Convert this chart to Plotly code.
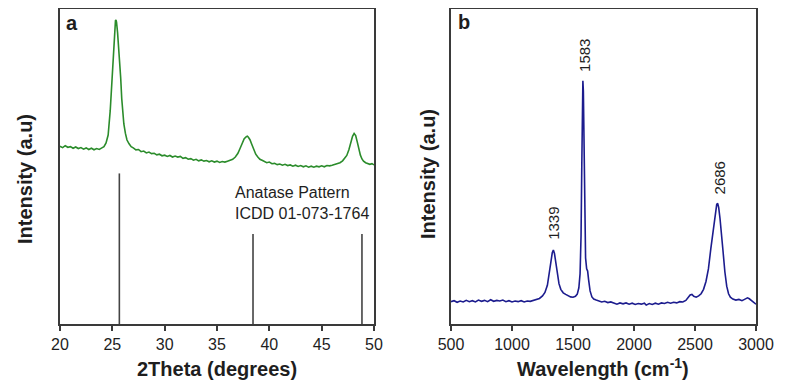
import plotly.graph_objects as go

# ---------------- Panel a: XRD ----------------
xrd_theta = [20.0, 20.25, 20.5, 20.75, 21.0, 21.25, 21.5, 21.75, 22.0, 22.25, 22.5, 22.75,
             23.0, 23.25, 23.5, 23.75, 24.0, 24.2, 24.4, 24.6, 24.8, 24.9, 25.0, 25.1, 25.2,
             25.3, 25.35, 25.4, 25.5, 25.6, 25.7, 25.8, 25.9, 26.0, 26.1, 26.25, 26.4, 26.6,
             26.8, 27.0, 27.25, 27.5, 27.75, 28.0, 28.25, 28.5, 28.75, 29.0, 29.25, 29.5,
             29.75, 30.0, 30.25, 30.5, 30.75, 31.0, 31.25, 31.5, 31.75, 32.0, 32.25, 32.5,
             32.75, 33.0, 33.25, 33.5, 33.75, 34.0, 34.25, 34.5, 34.75, 35.0, 35.25, 35.5,
             35.75, 36.0, 36.25, 36.5, 36.75, 37.0, 37.2, 37.4, 37.6, 37.8, 37.9, 38.0,
             38.15, 38.3, 38.5, 38.7, 38.9, 39.1, 39.4, 39.75, 40.0, 40.25, 40.5, 40.75,
             41.0, 41.25, 41.5, 41.75, 42.0, 42.25, 42.5, 42.75, 43.0, 43.25, 43.5, 43.75,
             44.0, 44.25, 44.5, 44.75, 45.0, 45.25, 45.5, 45.75, 46.0, 46.25, 46.5, 46.75,
             47.0, 47.2, 47.4, 47.6, 47.8, 47.95, 48.1, 48.25, 48.4, 48.55, 48.7, 48.85,
             49.0, 49.2, 49.4, 49.6, 49.8, 50.0]
xrd_intensity = [56.4, 56.0, 56.6, 56.1, 56.3, 55.8, 56.2, 55.7, 56.0, 55.5, 55.9, 55.4,
                 55.8, 55.3, 55.7, 55.4, 55.9, 56.3, 57.5, 60.0, 67.8, 73.5, 80.5, 88.0, 93.5,
                 96.3, 96.5, 95.8, 92.5, 88.0, 84.5, 78.0, 71.5, 67.0, 63.5, 60.5, 58.4, 57.2,
                 56.3, 55.9, 55.3, 55.4, 54.7, 54.9, 54.3, 54.6, 54.1, 54.2, 53.7, 53.9,
                 53.4, 53.6, 53.2, 53.5, 53.0, 53.3, 53.0, 53.2, 52.6, 52.8, 52.3, 52.5,
                 52.0, 52.3, 51.8, 52.1, 51.7, 51.9, 51.5, 51.8, 51.4, 51.7, 51.3, 51.6,
                 51.4, 51.7, 51.9, 52.3, 53.0, 54.2, 55.7, 57.5, 58.8, 59.5, 59.6, 59.3,
                 58.5, 57.2, 55.4, 53.9, 53.0, 52.3, 51.8, 51.2, 51.4, 50.9, 51.0, 50.6,
                 50.8, 50.4, 50.7, 50.3, 50.5, 50.1, 50.4, 50.0, 50.3, 49.9, 50.2, 49.8,
                 50.1, 49.8, 50.1, 49.9, 50.2, 49.9, 50.3, 50.2, 50.4, 50.6, 50.8, 51.2,
                 51.8, 52.5, 53.5, 55.3, 57.8, 59.6, 60.5, 59.8, 57.8, 55.5, 53.6, 52.4,
                 51.7, 51.2, 50.9, 50.7, 50.9, 50.5]

# Anatase reference pattern (ICDD 01-073-1764)
ref_theta = [25.67, 38.44, 48.85]
ref_height = [47.8, 28.6, 28.6]

# ---------------- Panel b: Raman ----------------
raman_shift = [500, 525, 550, 575, 600, 625, 650, 675, 700, 725, 750, 775, 800, 825, 850,
               875, 900, 925, 950, 975, 1000, 1025, 1050, 1075, 1100, 1125, 1150, 1175,
               1200, 1225, 1250, 1270, 1290, 1305, 1318, 1330, 1339, 1348, 1358, 1370, 1385,
               1400, 1420, 1440, 1460, 1480, 1500, 1520, 1535, 1548, 1558, 1566, 1572, 1577,
               1581, 1585, 1590, 1596, 1603, 1612, 1620, 1628, 1640, 1655, 1670, 1690, 1710,
               1735, 1760, 1785, 1810, 1835, 1860, 1885, 1910, 1935, 1960, 1985, 2010, 2035,
               2060, 2085, 2100, 2125, 2150, 2175, 2200, 2225, 2250, 2275, 2300, 2325, 2350,
               2375, 2400, 2425, 2445, 2460, 2475, 2490, 2510, 2530, 2550, 2570, 2590, 2610,
               2630, 2650, 2665, 2678, 2686, 2694, 2705, 2718, 2730, 2745, 2760, 2775, 2790,
               2810, 2835, 2860, 2885, 2910, 2930, 2945, 2960, 2975, 2990, 3000]
raman_intensity = [7.1, 7.4, 6.9, 7.3, 7.0, 7.5, 7.1, 7.4, 7.0, 7.6, 7.2, 7.5, 7.1, 7.7, 7.2,
                   7.5, 7.3, 7.6, 7.1, 7.4, 7.0, 7.3, 7.1, 7.4, 7.0, 7.3, 7.2, 7.5,
                   7.6, 8.1, 8.9, 10.0, 12.3, 15.5, 19.5, 22.6, 23.5, 22.4, 19.5, 15.8, 12.8,
                   11.0, 9.9, 9.4, 8.9, 8.6, 8.5, 8.8, 9.5, 11.5, 16.0, 28.0, 50.0, 70.0,
                   77.2, 74.0, 55.0, 32.0, 21.0, 17.5, 16.8, 14.0, 10.5, 8.6, 7.9, 7.6, 7.3,
                   7.0, 7.2, 6.8, 7.0, 6.6, 6.3, 6.7, 6.4, 6.7, 6.3, 6.6, 6.2, 6.5,
                   6.3, 6.6, 6.0, 6.5, 6.2, 6.6, 6.3, 6.7, 6.5, 6.9, 6.6, 6.9, 6.7,
                   7.1, 7.0, 7.5, 8.3, 9.2, 9.4, 8.8, 8.5, 8.9, 9.6, 11.0, 13.5, 17.5,
                   24.0, 30.5, 35.5, 38.0, 38.3, 37.0, 33.5, 29.0, 23.0, 16.5, 12.0, 9.6, 8.5,
                   7.9, 7.6, 7.8, 7.4, 7.9, 8.3, 8.0, 7.5, 7.0, 6.6, 6.3]

peak_labels = ["1339", "1583", "2686"]
peak_label_x = [1344, 1598, 2699]
peak_label_y = [32.1, 85.4, 46.3]

FONT = "Liberation Sans, Arial, sans-serif"
AXC = "#3a3a3a"
TXT = "#1e1e1e"

# The page body adds an 8 px offset; the figure is sized to fit the window.
W, H = 782, 378
OFF = 8


def px_x(sx):
    return (sx - OFF) / W


def py_y(sy):
    # plot area spans screen y 9..324
    return (324 - sy) / 315


fig = go.Figure()

fig.add_trace(go.Scatter(x=xrd_theta, y=xrd_intensity, mode="lines",
                         line=dict(color="#2b8c2b", width=1.6),
                         xaxis="x", yaxis="y", showlegend=False))
for xt, h in zip(ref_theta, ref_height):
    fig.add_trace(go.Scatter(x=[xt, xt], y=[0, h], mode="lines",
                             line=dict(color="#444444", width=1.6),
                             xaxis="x", yaxis="y", showlegend=False))

fig.add_trace(go.Scatter(x=raman_shift, y=raman_intensity, mode="lines",
                         line=dict(color="#1c1c8e", width=1.6),
                         xaxis="x2", yaxis="y2", showlegend=False))

axis_common = dict(showline=True, linecolor=AXC, linewidth=1.5, mirror=True,
                   showgrid=False, zeroline=False)

fig.update_layout(
    width=W, height=H,
    margin=dict(l=0, r=0, t=9 - OFF, b=H - (324 - OFF), autoexpand=False),
    paper_bgcolor="white", plot_bgcolor="white",
    font=dict(family=FONT, color=TXT),
    xaxis=dict(domain=[px_x(60), px_x(374)], range=[20, 50], tickvals=[20, 25, 30, 35, 40, 45, 50],
               ticks="outside", ticklen=5, tickwidth=1.5, tickcolor=AXC,
               tickfont=dict(size=16, family=FONT, color=TXT), anchor="y", **axis_common),
    yaxis=dict(domain=[0, 1], range=[0, 100], showticklabels=False, ticks="", anchor="x",
               **axis_common),
    xaxis2=dict(domain=[px_x(451), px_x(756)], range=[500, 3000],
                tickvals=[500, 1000, 1500, 2000, 2500, 3000],
                ticks="outside", ticklen=5, tickwidth=1.5, tickcolor=AXC,
                tickfont=dict(size=16, family=FONT, color=TXT), anchor="y2", **axis_common),
    yaxis2=dict(domain=[0, 1], range=[0, 100], showticklabels=False, ticks="", anchor="x2",
                **axis_common),
)

C = dict(xanchor="center", yanchor="middle", showarrow=False)
ann = []
# panel labels
ann.append(dict(text="<b>a</b>", x=px_x(72), y=py_y(23), xref="paper", yref="paper",
                font=dict(size=20, family=FONT, color=TXT), **C))
ann.append(dict(text="<b>b</b>", x=px_x(464), y=py_y(22), xref="paper", yref="paper",
                font=dict(size=20, family=FONT, color=TXT), **C))
# axis titles
ann.append(dict(text="<b>2Theta (degrees)</b>", x=px_x(217), y=py_y(369), xref="paper",
                yref="paper", font=dict(size=20, family=FONT, color=TXT), **C))
ann.append(dict(text="<b>Wavelength (cm<sup>-1</sup>)</b>", x=px_x(603), y=py_y(367),
                xref="paper", yref="paper", font=dict(size=20, family=FONT, color=TXT), **C))
ann.append(dict(text="<b>Intensity (a.u)</b>", x=px_x(25), y=py_y(179), xref="paper",
                yref="paper", textangle=-90, font=dict(size=20, family=FONT, color=TXT), **C))
ann.append(dict(text="<b>Intensity (a.u)</b>", x=px_x(428), y=py_y(174), xref="paper",
                yref="paper", textangle=-90, font=dict(size=20, family=FONT, color=TXT), **C))
# anatase pattern label
ann.append(dict(text="Anatase Pattern<br>ICDD 01-073-1764", x=36.5, y=38.4, xref="x", yref="y",
                xanchor="left", yanchor="middle", align="left", showarrow=False,
                font=dict(size=16, family=FONT, color=TXT)))
# Raman peak labels
for t, px, py in zip(peak_labels, peak_label_x, peak_label_y):
    ann.append(dict(text=t, x=px, y=py, xref="x2", yref="y2", textangle=-90,
                    font=dict(size=15, family=FONT, color=TXT), **C))

fig.update_layout(annotations=ann)
fig.write_html("out.html")
